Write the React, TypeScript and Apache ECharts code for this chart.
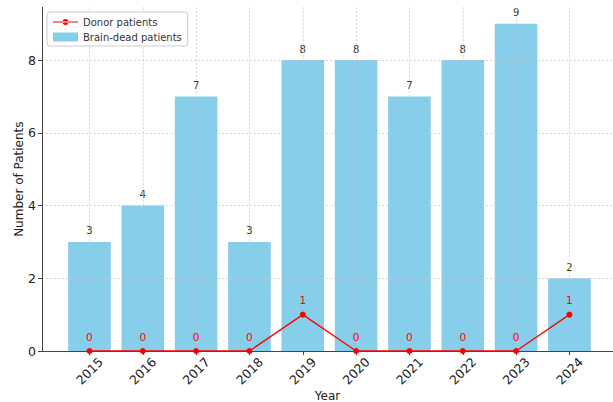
import React, { useEffect, useRef } from "react";
import * as echarts from "echarts";

const years = ["2015", "2016", "2017", "2018", "2019", "2020", "2021", "2022", "2023", "2024"];
const brainDead = [3, 4, 7, 3, 8, 8, 7, 8, 9, 2];
const donors = [0, 0, 0, 0, 1, 0, 0, 0, 0, 1];
const yTicks = [0, 2, 4, 6, 8];

export default function App() {
  const ref = useRef<HTMLDivElement>(null);
  useEffect(() => {
    const chart = echarts.init(ref.current!, null, { renderer: "svg" });
    const idx = years.map((_, i) => i);
    const font = "DejaVu Sans";
    const grid = {
      lineStyle: { color: "#c4c4c4", type: [2, 2], width: 0.7 },
    };
    chart.setOption({
      animation: false,
      textStyle: { fontFamily: font },
      grid: { left: 42, right: 0, top: 7.3, bottom: 51, outerBoundsMode: "none", containLabel: false },
      legend: {
        orient: "vertical",
        left: 47,
        top: 12,
        backgroundColor: "rgba(255,255,255,0.9)",
        borderColor: "#cccccc",
        borderWidth: 1,
        borderRadius: 3,
        padding: [5, 6, 4, 6],
        itemGap: 5,
        itemWidth: 25,
        itemHeight: 9,
        textStyle: { fontFamily: font, fontSize: 10, color: "#333" },
        data: [
          { name: "Donor patients", icon: "path://M0,4.5L26,4.5L26,5.5L0,5.5Z M10,5A3,3 0 1 0 16,5A3,3 0 1 0 10,5Z" },
          { name: "Brain-dead patients", icon: "rect" },
        ],
      },
      xAxis: {
        type: "value",
        min: -0.89,
        max: 9.817,
        z: 3,
        name: "Year",
        nameLocation: "middle",
        nameGap: 39,
        nameMoveOverlap: false,
        nameTextStyle: { fontFamily: font, fontSize: 12, color: "#222" },
        axisLine: { show: true, onZero: false, lineStyle: { color: "#444", width: 1 } },
        axisTick: { show: true, customValues: idx, length: 4, lineStyle: { color: "#444" } },
        axisLabel: {
          customValues: idx,
          rotate: 45,
          align: "center",
          verticalAlign: "middle",
          fontSize: 12.5,
          color: "#222",
          margin: 20,
          formatter: (v: number) => years[Math.round(v)] ?? "",
        },
        splitLine: { show: true, ...grid },
      },
      yAxis: {
        type: "value",
        min: 0,
        max: 9.45,
        z: 3,
        name: "Number of Patients",
        nameLocation: "middle",
        nameGap: 17,
        nameMoveOverlap: false,
        nameTextStyle: { fontFamily: font, fontSize: 12, color: "#222" },
        axisLine: { show: true, onZero: false, lineStyle: { color: "#444", width: 1 } },
        axisTick: { show: true, customValues: yTicks, length: 4, lineStyle: { color: "#444" } },
        axisLabel: { customValues: yTicks, fontSize: 12.5, color: "#222", margin: 6 },
        splitLine: { show: true, ...grid },
      },
      series: [
        {
          name: "Brain-dead patients",
          type: "bar",
          barWidth: 42.6,
          z: 2,
          itemStyle: { color: "#87ceeb" },
          label: { show: true, position: "top", distance: 6, fontSize: 10, color: "#333" },
          data: brainDead.map((v, i) => [i, v]),
        },
        {
          name: "Donor patients",
          type: "line",
          z: 5,
          symbol: "circle",
          symbolSize: 6,
          itemStyle: { color: "#ff0000" },
          lineStyle: { color: "#ff0000", width: 1.3 },
          label: { show: true, position: "top", distance: 6, fontSize: 10.5, color: "#ff0000" },
          data: donors.map((v, i) => [i, v]),
        },
      ],
    });
    return () => chart.dispose();
  }, []);
  return <div ref={ref} style={{ width: 613, height: 402, position: "absolute", left: 0, top: 0 }} />;
}
